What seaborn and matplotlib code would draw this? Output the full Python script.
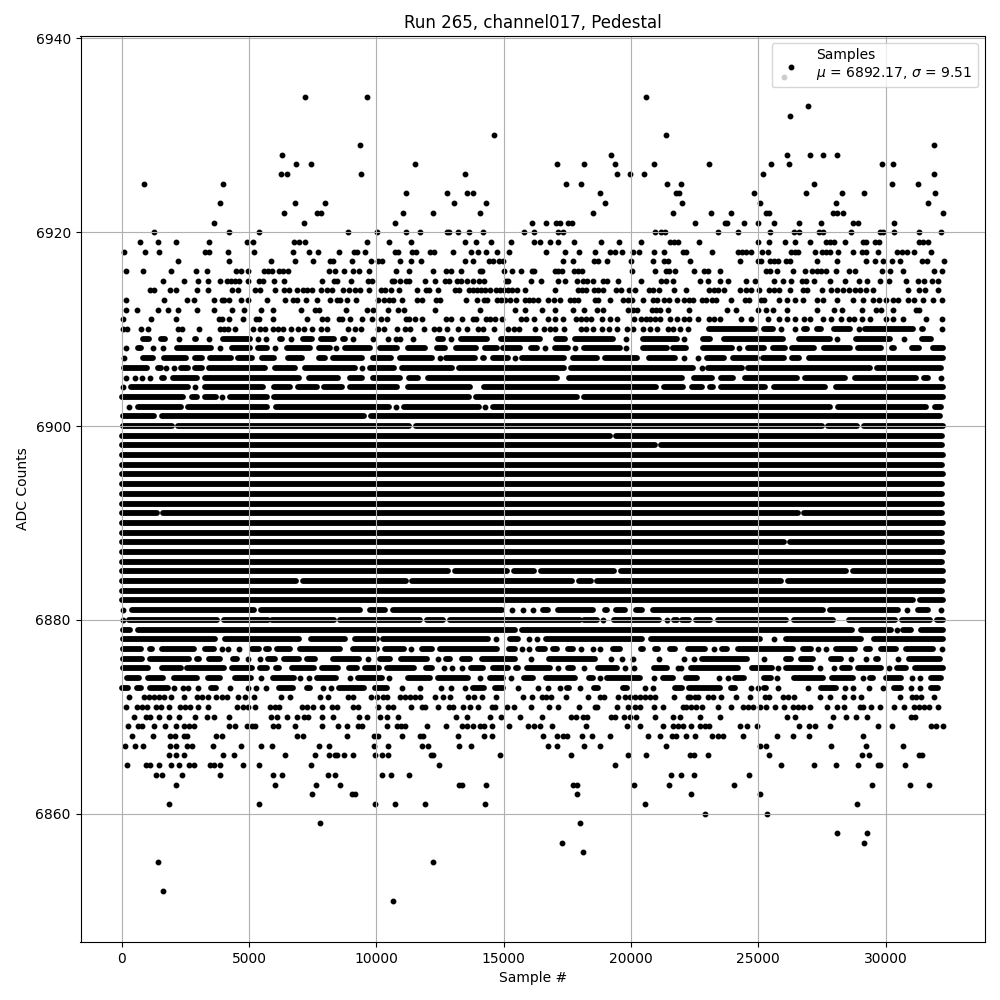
import matplotlib
matplotlib.use("Agg")
import matplotlib.pyplot as plt
import pandas as pd
import seaborn as sns

title = "Run 265, channel017, Pedestal"
legend_label = "Samples\n$\\mu$ = 6892.17, $\\sigma$ = 9.51"

sparse_levels = [6936, 6934, 6933, 6932, 6930, 6929, 6928, 6927, 6926, 6925, 6924, 6923, 6922, 6921,
                 6920, 6919, 6918, 6917, 6916, 6915, 6914, 6913, 6912, 6911, 6910,
                 6872, 6871, 6870, 6869, 6868, 6867, 6866, 6865, 6864, 6863, 6862, 6861, 6860,
                 6859, 6858, 6857, 6856, 6855, 6852, 6851]
sparse_samples = [
    [26000],
    [7215, 9647, 20590],
    [26942],
    [26236],
    [14628, 21372],
    [9372, 31882],
    [6313, 19215, 26118, 27020, 27530, 28079],
    [6862, 7450, 11530, 17100, 18157, 19372, 20902, 23060, 25491, 26197, 29843, 30275],
    [6274, 6510, 9411, 13490, 19450, 19960, 20510, 25178, 31882],
    [863, 3961, 17450, 18040, 21410, 21960, 27177, 30235, 31255],
    [11177, 12785, 13570, 13805, 18784, 21760, 21880, 24825, 26863, 28275, 29138, 31921],
    [3843, 6823, 8000, 13060, 14314, 18980, 22000, 25060, 28040, 31647],
    [6392, 7686, 7843, 11060, 12236, 14080, 18510, 21645, 23138, 23923, 25295, 25413, 27920, 28079, 28314, 32235],
    [3608, 7176, 10746, 16118, 16667, 17060, 17216, 17530, 17686, 22511, 23687, 23766, 24433, 24981,
     25609, 26589, 27452, 28706, 28902, 30314],
    [1255, 4235, 5412, 8901, 10038, 11177, 11727, 12785, 12864, 13217, 13650, 14197, 15804, 16196, 17137,
     17334, 20940, 21176, 21333, 23413, 24197, 25452, 26393, 26589, 27373, 27530, 28628, 29765, 29883, 30314,
     31294, 32157],
    [706, 1412, 2118, 3412, 4941, 5176, 6784, 6980, 7215, 9647, 10509, 11374, 13490, 13922, 14510, 15295,
     16196, 16432, 16824, 17137, 17765, 18823, 19529, 20392, 21529, 21685, 21843, 22668, 24981, 25413, 26040,
     26432, 27020, 27648, 27805, 27961, 28393, 29098, 29216, 29569, 29726, 31294, 31451, 31647],
    [79, 903, 1451, 3255, 3412, 4196, 5216, 6745, 7372, 7725, 8548, 9137, 9254, 9568, 10746, 10864, 11413,
     11570, 12118, 12275, 13020, 13726, 14000, 14314, 14745, 15216, 16667, 17412, 17961, 18588, 19176, 19372,
     19647, 20078, 20313, 20902, 21294, 22039, 22157, 23178, 24197, 24354, 24511, 24707, 25138, 25373, 26275,
     26432, 26550, 27216, 27491, 27648, 27805, 28118, 28706, 29059, 29216, 29686, 30431, 30628, 30824, 31098,
     31765],
    [2196, 4235, 5882, 6823, 7529, 8196, 8314, 9058, 9803, 10078, 10235, 10942, 11374, 11766, 13490, 13805,
     14432, 14589, 14824, 14981, 17333, 17725, 18549, 18706, 19058, 20000, 20862, 21294, 21450, 22315, 24276,
     24981, 25099, 25452, 25609, 25766, 26079, 26236, 27295, 28079, 29216, 29569, 29883, 30235, 30549, 31412,
     31608, 32275],
    [157, 824, 1922, 2902, 3333, 4510, 4706, 4980, 5608, 5765, 5921, 6196, 6353, 6549, 8157, 8392, 8745, 9098,
     9333, 9725, 10785, 11295, 12236, 12745, 12942, 13334, 14080, 14157, 15020, 15334, 15687, 16118, 16196,
     17020, 17137, 17294, 17765, 17922, 18078, 20039, 20940, 21372, 21490, 21725, 22472, 22864, 23021, 23491,
     25295, 25452, 25726, 26353, 26824, 27099, 27295, 27452, 27648, 28040, 28550, 28785, 29843, 30157, 30667,
     31883, 32196],
    [1608, 2432, 2980, 3373, 3882, 4118, 4275, 4471, 4627, 4980, 5412, 5569, 6000, 6392, 7882, 8353, 8470,
     9019, 9686, 9843, 10630, 10707, 10942, 11177, 11295, 11922, 12315, 12707, 12864, 13177, 13334, 13569,
     13805, 14040, 14236, 15099, 15177, 16079, 16471, 17137, 17412, 17882, 18118, 18275, 18510, 18902, 19058,
     19490, 20392, 21176, 21372, 21645, 22707, 23021, 23491, 23805, 24511, 24864, 25609, 25962, 26275, 26706,
     26863, 27177, 27805, 28393, 28942, 29255, 29765, 30118, 30784, 31255, 31490, 31804, 32039],
    [1099, 1255, 1882, 2118, 2941, 3373, 4353, 4588, 5255, 5451, 6039, 6392, 6588, 6875, 7137, 7294, 7490,
     7843, 8078, 8275, 8705, 8941, 9176, 9372, 9725, 10195, 10339, 10590, 10903, 11609, 11962, 12079, 12432,
     13099, 13256, 13650, 13805, 13961, 14118, 14275, 14471, 14706, 14863, 15020, 15177, 15334, 15530, 15843,
     17020, 17922, 18078, 18235, 18549, 18706, 18902, 19412, 19607, 19921, 20157, 20705, 20862, 21098, 21686,
     22158, 23060, 23256, 23413, 23648, 24276, 24511, 24707, 25020, 25413, 25609, 25805, 26236, 26746, 26902,
     27491, 27844, 28079, 28314, 28550, 28785, 28981, 29216, 29490, 30863, 31294, 31529, 32039],
    [157, 1647, 2549, 2824, 3608, 3922, 4000, 4235, 4706, 4980, 5725, 6431, 6745, 6875, 7255, 7673, 8196,
     8470, 8588, 8862, 9215, 10078, 10315, 10511, 10668, 11020, 11609, 11805, 12354, 12511, 13530, 13961,
     14236, 14353, 14745, 14902, 15059, 15255, 15490, 15843, 16000, 16157, 16353, 16745, 16980, 17216, 17608,
     17765, 17922, 18588, 18706, 19176, 19686, 19882, 20039, 20470, 20862, 21020, 21294, 21490, 21804, 22080,
     22276, 22433, 22786, 22943, 23178, 23335, 23923, 24472, 24629, 25099, 25217, 25805, 26118, 26432, 26746,
     27295, 27530, 28079, 28706, 29098, 29490, 29752, 30013, 30275, 30471, 30863, 31098, 31451, 31843, 32196],
    [157, 589, 1412, 1804, 2196, 2941, 3608, 4314, 4824, 5490, 5961, 7059, 7608, 7765, 8823, 9647, 9882,
     10470, 10864, 11099, 12315, 14080, 15451, 15843, 16510, 17020, 17725, 18157, 18667, 18902, 19882, 20078,
     20235, 20824, 20980, 21137, 21450, 22276, 23766, 24119, 24981, 25295, 25570, 26118, 27295, 27961, 28275,
     29059, 29608, 29804, 30275, 31176, 31294],
    [40, 1137, 2118, 3804, 3922, 4235, 4784, 5294, 5412, 5961, 7294, 7882, 8078, 8549, 8666, 8980, 9450,
     9843, 10196, 10405, 11177, 11295, 11504, 11805, 12745, 12942, 13373, 13805, 13922, 14314, 14471, 14667,
     14942, 15687, 15883, 16196, 16745, 17020, 17334, 17843, 18040, 18235, 18431, 18863, 19176, 19451, 20117,
     20392, 20588, 20745, 20941, 21137, 21529, 21804, 22078, 22276, 22629, 23060, 23256, 23491, 24315, 24707,
     25373, 25805, 26118, 26432, 26785, 27020, 27530, 27844, 28236, 28550, 28745, 29059, 29373, 30000, 30275,
     30667, 31569, 32196],
    [40, 197, 746, 1020, 2196, 2353, 3020, 3882, 4000, 4157, 4471, 5176, 5451, 5647, 5961, 6157, 6353, 6666,
     6941, 7176, 7490, 7843, 8078, 8901, 9176, 9411, 10078, 10313, 10825, 11138, 11334, 11883, 12275, 12471,
     12785, 13217, 13570, 14000, 14197, 14628, 15177, 15412, 15608, 16236, 16589, 16824, 17020, 17373, 18040,
     18235, 18510, 18863, 19137, 19451, 19843, 20078, 20470, 20745, 21020, 21450, 21645, 21921, 22235],
    [275, 863, 1060, 1255, 1451, 1648, 1935, 2432, 2955, 3150, 3373, 3713, 3922, 4130, 4588, 4863, 5216, 6274,
     6627, 7803, 8117, 8900, 9100, 9803, 10040, 10250, 10406, 10929, 11125, 11321, 11517, 11713, 12300, 12628,
     12890, 13609, 13830, 14157, 14706, 15765, 16131, 16510, 16680, 16876, 17451, 18314, 18772, 18928, 19490,
     19752, 19948, 20145, 20341, 20536, 20758, 20928, 21686, 22235, 22302, 22498, 22629, 23021, 23217, 23518,
     24119, 24668, 25243, 25413, 25962, 26158, 26419, 27412, 27805, 28353, 28706, 29033, 30550, 31020, 31190,
     31373, 31883],
    [170, 602, 798, 994, 1360, 1543, 1844, 2275, 2497, 2693, 2980, 3373, 4549, 4784, 4980, 5242, 5830, 6026,
     6196, 7071, 7268, 7529, 7882, 8248, 8444, 9097, 9293, 10051, 10472, 10668, 11374, 11779, 11910, 12432,
     12864, 13020, 13413, 13674, 14000, 14524, 14654, 15138, 15399, 16079, 16785, 17137, 17961, 18575, 18667,
     19451, 19882, 20143, 20340, 20902, 21241, 22039, 22170, 22367, 22564, 22799, 23413, 23923, 24393, 24589,
     24785, 25047, 25308, 25674, 26001, 26354, 26550, 26746, 27033, 27687, 28079, 28354, 28981, 29125, 29412,
     29765, 30314, 30706, 31098, 31320, 31516, 31712, 32039],
    [497, 955, 1125, 1451, 1844, 2236, 2889, 3347, 3634, 4235, 5856, 6092, 6483, 6875, 7163, 7333, 7882, 8313,
     9333, 9647, 10143, 10430, 10864, 13125, 13569, 14471, 14902, 15647, 16510, 17660, 17856, 18118, 18275,
     19229, 19360, 19725, 19974, 20196, 20941, 21647, 21921, 22720, 23478, 26118, 26432, 27922, 28445, 28837,
     29255, 30994, 31164],
    [236, 628, 798, 1255, 1687, 2144, 2432, 2628, 2824, 4235, 4457, 4915, 5111, 5242, 5961, 6157, 6823, 7882,
     8509, 8862, 9293, 9424, 10432, 10798, 10955, 11125, 12001, 12746, 13347, 13543, 13778, 14066, 14223, 14550,
     15216, 15961, 16196, 16432, 16902, 18235, 19843, 20366, 21255, 21647, 21843, 22039, 22354, 22694, 22890,
     23060, 24263, 24563, 24942, 26589, 26981, 27216, 27805, 29686, 30235, 31778, 31974, 32235],
    [393, 1216, 1909, 2079, 2432, 2562, 3713, 3922, 6902, 7137, 8862, 9921, 10078, 11021, 11713, 11844, 13217,
     14236, 14550, 16549, 17098, 17333, 17490, 18078, 18470, 19176, 20666, 21137, 21607, 21777, 22143, 22498,
     23178, 23413, 23609, 24393, 25726, 26354, 26981, 29125],
    [118, 510, 824, 1909, 2131, 2562, 2745, 3569, 4706, 5490, 5921, 7764, 8156, 9921, 10470, 11805, 12040,
     13256, 13726, 16745, 17098, 18157, 18784, 21372, 25060, 25295, 27844, 29216, 30667],
    [1844, 2131, 2432, 3961, 4431, 6431, 7607, 8156, 8379, 8470, 8745, 9097, 9960, 10235, 10472, 12132, 12236,
     14863, 17647, 19882, 20588, 22302, 22459, 23021, 25413, 29059, 29333, 31294, 31412],
    [197, 942, 1099, 1451, 1922, 2236, 2628, 2824, 3451, 3608, 3843, 4784, 5412, 7450, 12471, 19372, 25883,
     27177, 28040, 28902, 29687, 29791, 30745],
    [1360, 1582, 2353, 3882, 5961, 6313, 8117, 8392, 10236, 10589, 11295, 21568, 21960, 22485, 24629],
    [2118, 6039, 7647, 8588, 13256, 13347, 14314, 17725, 17882, 20117, 21490, 24040, 29451, 30941, 31687],
    [7490, 9058, 9176, 17882, 22354, 25060],
    [1844, 5412, 9960, 10746, 11923, 14275, 20548, 28863],
    [22903, 25334],
    [7803, 18000],
    [28079, 29255],
    [17294, 29138],
    [18118],
    [1412, 12236],
    [1608],
    [10668],
]

# rows too crowded for single samples: a number is one point, a pair is a run of overlapping points
band_levels = list(range(6910, 6872, -1))
band_spans = [
    [(23073, 24864), (25204, 25583), 25883, 26432, (26800, 26900), (27320, 27478), (27975, 28590), 28940,
     (29190, 31070), (31412, 31465), 32210],
    [(850, 1070), (1530, 1690), 2236, (2876, 2930), 3412, (3987, 5060), 5360, 5660, (6210, 6300), 6653,
     (7125, 7480), (7843, 8326), (8690, 8780), 9097, 9882, 10456, 10785, 10942, 11452, (12419, 12602), 12916,
     (13334, 14340), (14902, 16432), (17060, 17412), (17817, 19307), 19804, (20457, 21790), 22093, (22812, 23100),
     (23661, 25975), (26600, 27805), 28105, (28824, 30157), 30719, (31412, 31790)],
    [170, (654, 745), 1216, 1608, (2157, 3490), 3882, (4314, 5059), (5360, 5712), 6039, (6496, 7411),
     (7751, 8196), 8418, (8757, 9764), (10130, 10812), (11243, 11922), (12380, 12707), (13138, 13922),
     (14262, 14733), (14994, 15647), (16079, 16301), 16641, (17033, 17543), 17817, (18170, 19568), 19790,
     (20457, 21400), (21630, 22170), (22812, 23949), 24236, (24576, 25217), (25583, 26040), (26315, 27177),
     (27582, 28589), (28929, 29830), (30262, 30340), (31046, 31307), (31856, 32250)],
    [80, (850, 1240), (1670, 2510), (2876, 3160), (3460, 4280), (4580, 5120), (5520, 5970), (6540, 7090),
     (7750, 8000), (8300, 9440), (9870, 10576), (10920, 12180), 12500, (12745, 13880), (14180, 14240),
     (14600, 15190), 15440, (15730, 17350), (17710, 18655), (18990, 20220), (20720, 21725), 22090, 22630,
     (22970, 23650), (23990, 24930), (25200, 26000), (26340, 26600), (26995, 32250)],
    [(80, 1000), (1430, 1540), 1730, 2050, (2350, 2600), (2880, 3160), (3440, 5640), (6030, 6820), (7190, 9180),
     9450, (9750, 10680), (11020, 12970), (13240, 17350), (17650, 22445), 22770, (23010, 24340), (24575, 29370),
     (29670, 32180)],
    [160, 510, 800, 1100, (1600, 1660), (2030, 2970), (3270, 6950), (7360, 8480), (8980, 9440), (9870, 10940),
     (11280, 11620), (12030, 17090), (17580, 21990), (22485, 23200), (23530, 24015), (24485, 26500), (26840, 28390),
     (28800, 31200), (31500, 31660), 32160],
    [40, (350, 2590), 2880, (3270, 5570), (5974, 6627), (6930, 7673), (7934, 8650), (8950, 10810), (11243, 13687),
     (14223, 21000), (21300, 22030), (22394, 22773), (23100, 23230), (23530, 25256), (25620, 27608), (28066, 32250)],
    [(10, 2420), (2745, 2940), (3270, 3690), 3960, (4250, 5690), (5970, 13620), (13920, 17870), (18170, 32250)],
    [280, (654, 2315), (2590, 5712), (6050, 10490), 10760, (11073, 14014), 14275, (14576, 27805),
     (28145, 31595), (31920, 32180)],
    [(40, 1270), (1580, 9500), (9800, 32120)],
    [(50, 1970), (2230, 11290), (11540, 27490), (27750, 28880), (29140, 32240)],
    [(30, 19160), (19420, 32220)],
    [(30, 20930), (21190, 32220)],
    [(30, 32260)],
    [(0, 32220)],
    [(0, 32240)],
    [(0, 32220)],
    [(30, 32230)],
    [(0, 32220)],
    [(0, 1370), (1620, 26540), (26800, 32220)],
    [(30, 32240)],
    [(0, 32220)],
    [(30, 26000), (26240, 32220)],
    [(30, 32240)],
    [(0, 32220)],
    [(0, 12830), (13080, 15150), (15410, 16210), (16470, 19350), (19600, 28450), (28700, 32240)],
    [(0, 6850), (7110, 11170), (11420, 17700), (17960, 18420), (18680, 25900), (26150, 32240)],
    [(30, 32220)],
    [(0, 31090), (31350, 32240)],
    [40, (393, 5190), (5490, 9372), (9737, 10328), (10655, 14929), 15334, 15765, 16157, (16536, 16758),
     (17124, 18523), (18993, 19060), (19412, 19765), (20196, 20418), (20849, 27543), (27805, 30484), 30850,
     (31268, 31660), 32157],
    [40, (290, 3750), (4000, 5750), (5900, 8320), (8580, 11730), (11990, 12630), (12900, 18000), (18140, 18680),
     18900, (19350, 21100), 21400, (21680, 21800), (22000, 22280), (22550, 23100), (23400, 26100), (26400, 27935),
     (28560, 30350), (30650, 31730), (32025, 32250)],
    [(66, 327), (654, 15430), (15720, 28670), (29020, 30200), 30450, (30670, 30980), (31380, 32240)],
    [(66, 3650), (4050, 6950), (7450, 8780), (9150, 10025), (10275, 14400), 14700, (15230, 15580), 15987,
     16327, (16670, 20420), (20785, 25050), 25600, (26080, 29050), (29540, 32250)],
    [(66, 745), (1112, 1203), (1570, 2837), (3268, 3621), 3935, 4196, 4614, (5137, 5385), (5686, 5777),
     (6117, 6627), (6993, 8588), (9085, 10025), (10325, 11073), 11374, (11805, 12184), (12510, 14733),
     (15203, 15451), 15726, 16014, (16340, 16628), (16955, 17085), (17517, 17712), 18026, 18497, 18784,
     (19281, 19570), (20392, 20483), (20954, 21072), (21529, 21725), (22224, 22903), 23243, (23570, 23753),
     (24184, 26367), (26759, 27086), 27334, 27661, (28066, 28785), (29216, 29373), (29804, 30418), (30811, 31856),
     32196],
    [(66, 811), (1112, 2641), (2941, 3033), (3438, 3882), (4379, 4536), 4967, 5438, (5751, 6039), (6379, 6954),
     (7281, 7607), (8300, 9306), 9686, (10130, 10524), (10982, 11988), 12420, (12746, 12902), (13373, 13687),
     (14144, 15451), 16079, (16798, 18588), 19216, 19647, 20065, 21111, 22091, 22459, (22786, 24537), 25204,
     (26079, 26301), (26667, 27151), (27844, 28262), 28628, 29230, (29608, 29700), 30497, (30915, 32119)],
    [(66, 1033), (1570, 2314), (2549, 4013), (4353, 5124), (5451, 5712), (6078, 6170), (6706, 7542), (7882, 8483),
     (8927, 9241), (9542, 10091), (10417, 11465), (11935, 12184), 12667, 12981, 13360, (13726, 14184),
     (14576, 15190), (15490, 15582), (15909, 16824), 17124, (17517, 17739), 18144, (18693, 19464), 19752, 20130,
     (20915, 21398), 21830, 21975, (22354, 24210), (24733, 25517), 25766, (26079, 27086), 27412, 27961,
     (28301, 28590), (28929, 29830), 30118, (30458, 30811), (31150, 32250)],
    [(223, 681), (1046, 1634), (2052, 2967), (3399, 3882), (4444, 5085), 5490, (5948, 6758), 7019, 7359,
     (7686, 8431), 8966, (9280, 10221), 10485, (11243, 12118), (12420, 13582), 14066, (14471, 14968), 15307,
     (15792, 16170), (16667, 17804), (18366, 18523), 18784, (19046, 20352), 20889, (21241, 21659), (22157, 22603),
     23439, 23805, (24080, 24446), (25230, 25478), 25726, (26406, 27543), (27883, 28719), 29098, (29373, 29503),
     (30000, 30615), 31020, 31346, (31765, 32183)],
    [(27, 262), (615, 745), (1112, 1804), 2040, 2392, 2615, 2980, (3490, 3687), 4261, 4980, 5294, 5686,
     (6183, 6732), (7281, 7385), 7921, 8209, (8535, 9503), (9933, 10417), 11021, 11727, 12537, 12929, 13491,
     (13792, 14210), (14667, 14955), 15569, 16353, 16732, 17203, (17477, 17569), 17987, (18536, 18719),
     (19673, 19830), 20536, 20863, (21738, 22001), (22289, 23491), (23923, 24080), 24707, 24981, (25230, 25295),
     25766, 26955, (27452, 28066), 28418, 28706, 29334, 29909, (30327, 30615), 30994, 31333, (31765, 32052)],
]

# long tables for plotting
point_rows = []
run_rows = []
for level, samples in zip(sparse_levels, sparse_samples):
    for s in samples:
        point_rows.append((s, level))
for level, spans in zip(band_levels, band_spans):
    for item in spans:
        if isinstance(item, tuple):
            run_rows.append((level, item[0], item[1]))
        else:
            point_rows.append((item, level))

points = pd.DataFrame(point_rows, columns=["sample", "adc"])
runs = pd.DataFrame(run_rows, columns=["adc", "start", "end"])

fig, ax = plt.subplots(figsize=(10, 10), dpi=100)

sns.scatterplot(data=points, x="sample", y="adc", marker=".", s=36, color="k",
                edgecolor="k", linewidth=1.2, label=legend_label, ax=ax)
ax.hlines(runs["adc"], runs["start"], runs["end"], color="k", linewidth=4.2,
          capstyle="round", zorder=1)

ax.set_xlim(-1615, 33900)
ax.set_ylim(6846.75, 6940.25)
ax.set_xlabel("Sample #")
ax.set_ylabel("ADC Counts")
ax.set_title(title)
ax.grid(True)
ax.legend(loc="upper right")

fig.subplots_adjust(left=0.0805, right=0.985, top=0.964, bottom=0.058)
fig.savefig("out.png")
